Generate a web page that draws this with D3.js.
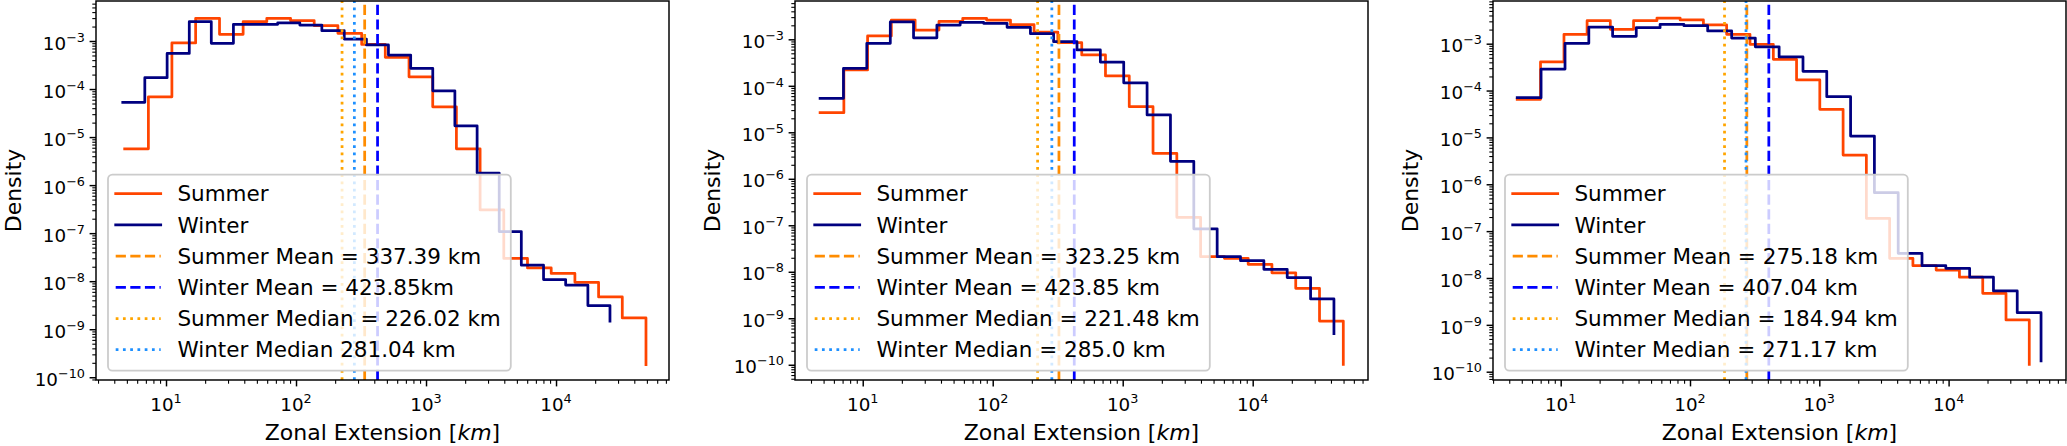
<!DOCTYPE html>
<html>
<head>
<meta charset="utf-8">
<script src="https://cdn.jsdelivr.net/npm/d3@7"></script>
<style>
  body { margin: 0; background: #fff; }
  svg { display: block; }
  text { font-family: "DejaVu Sans", sans-serif; fill: #000; }
</style>
</head>
<body>
<svg id="chart"></svg>
<script>
// histogram bin edges [km] and densities per panel; the last density is the
// value the step line drops to at the last edge
const p1SummerEdges = [4.81, 7.32, 11.1, 16.9, 25.8, 39.2, 59.6, 90.8, 138, 210, 320, 486, 740, 1126, 1713, 2606, 3965, 6033, 9181, 13970, 21250, 32340, 49200];
const p1SummerDensity = [5.7e-6, 6.9e-5, 9.1e-4, 2.97e-3, 1.38e-3, 2.52e-3, 2.97e-3, 2.65e-3, 2.08e-3, 1.45e-3, 8.5e-4, 4.57e-4, 1.8e-4, 4.28e-5, 5.7e-6, 3.05e-7, 2.97e-8, 1.89e-8, 1.45e-8, 9.5e-9, 4.7e-9, 1.72e-9, 1.84e-10];
const p1WinterEdges = [4.65, 6.87, 10.2, 15.1, 22.3, 33.0, 48.9, 72.3, 107, 158, 235, 348, 514, 762, 1127, 1667, 2472, 3656, 5408, 8017, 11860, 17580, 26000];
const p1WinterDensity = [5.3e-5, 1.72e-4, 5.5e-4, 2.52e-3, 8.95e-4, 2.23e-3, 2.23e-3, 2.4e-3, 2.15e-3, 1.64e-3, 1.1e-3, 8.3e-4, 5.1e-4, 2.7e-4, 9.2e-5, 1.72e-5, 1.78e-6, 1.08e-7, 2.15e-8, 1.08e-8, 8.3e-9, 3.1e-9, 1.47e-9];

const p2SummerEdges = [4.70, 7.16, 10.9, 16.6, 25.3, 38.6, 58.8, 89.7, 137, 208, 317, 484, 737, 1123, 1711, 2608, 3974, 6056, 9229, 14060, 21430, 32660, 49770];
const p2SummerDensity = [2.64e-5, 2.19e-4, 1.18e-3, 2.6e-3, 1.58e-3, 2.44e-3, 2.83e-3, 2.6e-3, 2.06e-3, 1.42e-3, 8.45e-4, 4.6e-4, 1.63e-4, 3.55e-5, 3.53e-6, 1.48e-7, 2.11e-8, 1.95e-8, 1.45e-8, 9.5e-9, 4.4e-9, 8.7e-10, 1.02e-10];
const p2WinterEdges = [4.70, 7.11, 10.75, 16.3, 24.6, 37.2, 56.2, 85.1, 129, 195, 294, 445, 673, 1018, 1540, 2330, 3523, 5329, 8057, 12190, 18430, 27880, 42170];
const p2WinterDensity = [5.38e-5, 2.38e-4, 8.2e-4, 2.36e-3, 1.08e-3, 2.03e-3, 2.32e-3, 2.21e-3, 1.81e-3, 1.32e-3, 8.9e-4, 5.9e-4, 3.25e-4, 1.16e-4, 2.36e-5, 2.38e-6, 8.4e-8, 2.11e-8, 1.73e-8, 1.13e-8, 7.5e-9, 2.6e-9, 4.7e-10];

const p3SummerEdges = [4.61, 6.98, 10.6, 16.0, 24.2, 36.6, 55.5, 83.9, 127, 192, 291, 441, 667, 1009, 1528, 2312, 3499, 5297, 8017, 12130, 18370, 27800, 42070];
const p3SummerDensity = [6.5e-5, 4.07e-4, 1.59e-3, 3.1e-3, 2.03e-3, 3.1e-3, 3.53e-3, 3.21e-3, 2.51e-3, 1.59e-3, 9.7e-4, 4.65e-4, 1.68e-4, 3.98e-5, 4.2e-6, 1.88e-7, 2.63e-8, 1.83e-8, 1.48e-8, 1.04e-8, 4.72e-9, 1.27e-9, 1.44e-10];
const p3WinterEdges = [4.61, 7.05, 10.8, 16.5, 25.2, 38.4, 58.7, 89.7, 137, 210, 320, 489, 748, 1142, 1746, 2668, 4076, 6228, 9517, 14550, 22230, 33950, 51880];
const p3WinterDensity = [7.05e-5, 2.88e-4, 1.02e-3, 2.27e-3, 1.44e-3, 2.19e-3, 2.59e-3, 2.42e-3, 1.87e-3, 1.32e-3, 8.6e-4, 5.2e-4, 2.58e-4, 7.4e-5, 1.07e-5, 6.6e-7, 3.37e-8, 1.83e-8, 1.61e-8, 1.04e-8, 5.3e-9, 1.82e-9, 1.7e-10];

// vertical reference lines [km], one value per panel
const summerMean = [337.39, 323.25, 275.18];
const winterMean = [423.85, 423.85, 407.04];
const summerMedian = [226.02, 221.48, 184.94];
const winterMedian = [281.04, 285.0, 271.17];

const p1Labels = ["Summer", "Winter", "Summer Mean = 337.39 km", "Winter Mean = 423.85km", "Summer Median = 226.02 km", "Winter Median 281.04 km"];
const p2Labels = ["Summer", "Winter", "Summer Mean = 323.25 km", "Winter Mean = 423.85 km", "Summer Median = 221.48 km", "Winter Median = 285.0 km"];
const p3Labels = ["Summer", "Winter", "Summer Mean = 275.18 km", "Winter Mean = 407.04 km", "Summer Median = 184.94 km", "Winter Median = 271.17 km"];

// axis limits as log10 exponents
const xlimLog = [[0.4615, 4.869], [0.479, 4.887], [0.4764, 4.908]];
const ylimLog = [[-10.057, -2.167], [-10.328, -2.176], [-10.177, -2.089]];

const xMajorTicks = [1e1, 1e2, 1e3, 1e4];
const xTickExp = ["1", "2", "3", "4"];
const yMajorTicks = [1e-10, 1e-9, 1e-8, 1e-7, 1e-6, 1e-5, 1e-4, 1e-3];
const yTickExp = ["\u221210", "\u22129", "\u22128", "\u22127", "\u22126", "\u22125", "\u22124", "\u22123"];

const xLabel = "Zonal Extension [";
const xLabelUnit = "km";
const yLabel = "Density";

const W = 2067, H = 446;
const plotTop = 1, plotBottom = 380;
const panelLeft = [96, 795, 1493];
const panelW = 573;
const lw = 2.75;

const styles = [
    {color: "#ff4500", dash: null},
    {color: "#000080", dash: null},
    {color: "#ff8c00", dash: "10.2,4.4"},
    {color: "#0000ff", dash: "10.2,4.4"},
    {color: "#ffa500", dash: "2.75,4.5"},
    {color: "#1e90ff", dash: "2.75,4.5"}
];

const panels = [
    {summer: [p1SummerEdges, p1SummerDensity], winter: [p1WinterEdges, p1WinterDensity], labels: p1Labels},
    {summer: [p2SummerEdges, p2SummerDensity], winter: [p2WinterEdges, p2WinterDensity], labels: p2Labels},
    {summer: [p3SummerEdges, p3SummerDensity], winter: [p3WinterEdges, p3WinterDensity], labels: p3Labels}
];

const svg = d3.select("#chart").attr("width", W).attr("height", H);

function minorTicks(lo, hi) {
    const out = [];
    for (let k = Math.floor(lo); k <= Math.ceil(hi); k++) {
        for (let m = 2; m <= 9; m++) {
            const v = m * Math.pow(10, k);
            if (Math.log10(v) >= lo && Math.log10(v) <= hi) out.push(v);
        }
    }
    return out;
}

panels.forEach((p, i) => {
    const left = panelLeft[i];
    const x = d3.scaleLog()
        .domain([Math.pow(10, xlimLog[i][0]), Math.pow(10, xlimLog[i][1])])
        .range([left, left + panelW]);
    const y = d3.scaleLog()
        .domain([Math.pow(10, ylimLog[i][0]), Math.pow(10, ylimLog[i][1])])
        .range([plotBottom, plotTop]);

    const g = svg.append("g");

    // ticks
    const xAxisMajor = d3.axisBottom(x).tickValues(xMajorTicks).tickSize(6.4).tickFormat("");
    const xAxisMinor = d3.axisBottom(x).tickValues(minorTicks(xlimLog[i][0], xlimLog[i][1])).tickSize(3.7).tickFormat("");
    const yAxisMajor = d3.axisLeft(y).tickValues(yMajorTicks).tickSize(6.4).tickFormat("");
    const yAxisMinor = d3.axisLeft(y).tickValues(minorTicks(ylimLog[i][0], ylimLog[i][1])).tickSize(3.7).tickFormat("");

    g.append("g").attr("transform", `translate(0,${plotBottom})`).call(xAxisMajor)
        .call(a => a.selectAll("line").attr("stroke-width", 1.47));
    g.append("g").attr("transform", `translate(0,${plotBottom})`).call(xAxisMinor)
        .call(a => a.selectAll("line").attr("stroke-width", 1.1));
    g.append("g").attr("transform", `translate(${left},0)`).call(yAxisMajor)
        .call(a => a.selectAll("line").attr("stroke-width", 1.47));
    g.append("g").attr("transform", `translate(${left},0)`).call(yAxisMinor)
        .call(a => a.selectAll("line").attr("stroke-width", 1.1));
    g.selectAll(".domain").remove();

    // tick labels with superscript exponents
    xMajorTicks.forEach((v, k) => {
        const t = g.append("text")
            .attr("x", x(v)).attr("y", 410.5)
            .attr("text-anchor", "middle")
            .style("font-size", "18.3px");
        t.append("tspan").text("10");
        t.append("tspan").attr("dy", -7.5).style("font-size", "12.8px").text(xTickExp[k]);
    });
    yMajorTicks.forEach((v, k) => {
        const t = g.append("text")
            .attr("x", left - 11).attr("y", y(v) + 8.7)
            .attr("text-anchor", "end")
            .style("font-size", "18.3px");
        t.append("tspan").text("10");
        t.append("tspan").attr("dy", -8).style("font-size", "12.8px").text(yTickExp[k]);
    });

    // axis labels
    const xl = g.append("text")
        .attr("x", left + panelW / 2).attr("y", 440)
        .attr("text-anchor", "middle")
        .style("font-size", "22px");
    xl.append("tspan").text(xLabel);
    xl.append("tspan").style("font-style", "italic").text(xLabelUnit);
    xl.append("tspan").text("]");

    g.append("text")
        .attr("transform", `translate(${left - 75.5},${(plotTop + plotBottom) / 2}) rotate(-90)`)
        .attr("text-anchor", "middle")
        .style("font-size", "22px")
        .text(yLabel);

    // step histograms
    const line = d3.line()
        .x(d => x(d[0]))
        .y(d => y(d[1]))
        .curve(d3.curveStepAfter);

    [p.summer, p.winter].forEach((s, k) => {
        const pts = s[0].map((e, j) => [e, s[1][j]]);
        g.append("path")
            .attr("d", line(pts))
            .attr("fill", "none")
            .attr("stroke", styles[k].color)
            .attr("stroke-width", lw)
            .attr("stroke-linejoin", "round")
            .attr("stroke-linecap", "square");
    });

    // mean / median lines
    const vlines = [summerMean[i], winterMean[i], summerMedian[i], winterMedian[i]];
    vlines.forEach((v, k) => {
        const st = styles[k + 2];
        g.append("line")
            .attr("x1", x(v)).attr("x2", x(v))
            .attr("y1", plotBottom).attr("y2", plotTop)
            .attr("stroke", st.color)
            .attr("stroke-width", lw)
            .attr("stroke-dasharray", st.dash);
    });

    // spines
    g.append("rect")
        .attr("x", left).attr("y", plotTop)
        .attr("width", panelW).attr("height", plotBottom - plotTop)
        .attr("fill", "none")
        .attr("stroke", "#000")
        .attr("stroke-width", 1.47);

    // legend
    const legH = 196;
    const legX = left + 12;
    const legY = plotBottom - 9.3 - legH;
    const leg = g.append("g").attr("transform", `translate(${legX},${legY})`);
    const box = leg.append("rect");
    let maxW = 0;
    p.labels.forEach((lab, k) => {
        const cy = 19 + k * 31.2;
        const st = styles[k];
        leg.append("line")
            .attr("x1", 7.7).attr("x2", 52.7)
            .attr("y1", cy).attr("y2", cy)
            .attr("stroke", st.color)
            .attr("stroke-width", lw)
            .attr("stroke-dasharray", st.dash)
            .attr("stroke-linecap", st.dash ? "butt" : "square");
        const t = leg.append("text")
            .attr("x", 69.4).attr("y", cy + 7.8)
            .style("font-size", "21.5px")
            .text(lab);
        maxW = Math.max(maxW, t.node().getComputedTextLength());
    });
    box.attr("x", 0).attr("y", 0)
        .attr("width", 69.4 + maxW + 10)
        .attr("height", legH)
        .attr("rx", 4.4).attr("ry", 4.4)
        .attr("fill", "#fff").attr("fill-opacity", 0.8)
        .attr("stroke", "#cccccc").attr("stroke-width", 1.8);
});
</script>
</body>
</html>
